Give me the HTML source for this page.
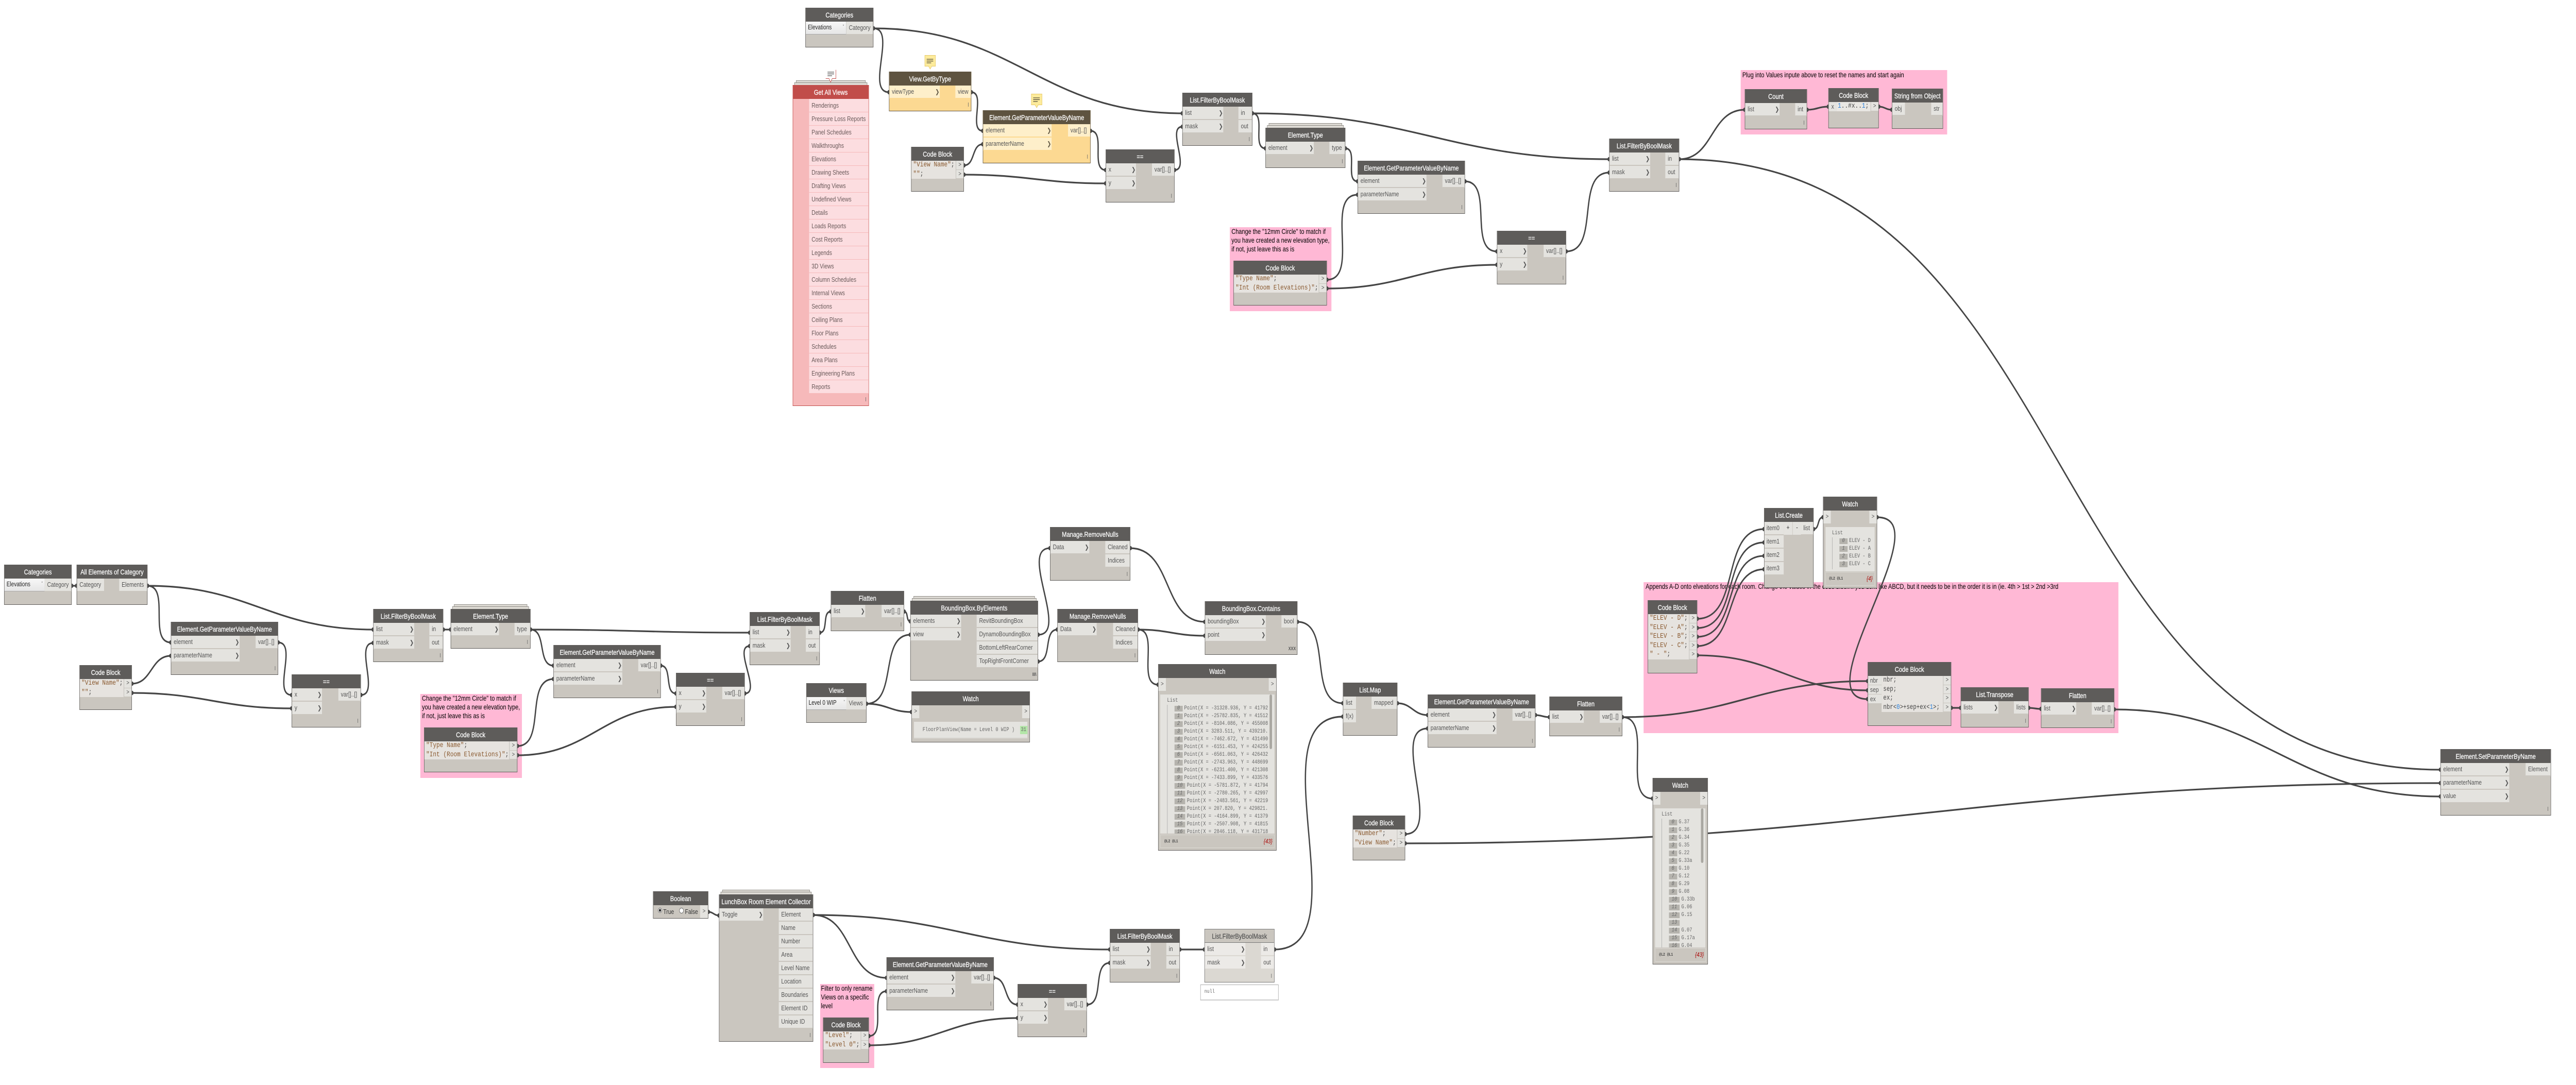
<!DOCTYPE html>
<html lang="en">
<head>
<meta charset="utf-8">
<title>Dynamo graph</title>
<style>
html,body{margin:0;padding:0;background:#fff;overflow:hidden}
#c{position:relative;width:6288px;height:2106px;overflow:hidden;background:#fff;font-family:"Liberation Sans",sans-serif}
.g{position:absolute;background:#ffb8d5;color:#000;font-size:13.8px;line-height:17px;padding:0 4px;box-sizing:border-box;white-space:nowrap}
svg.w{position:absolute;left:0;top:0}
.n{position:absolute;box-sizing:border-box;background:#cac6bf;border:1px solid #5e5c5a;border-bottom-width:1.5px;font:13px "Liberation Sans",sans-serif;color:#555}
.h{height:26px;line-height:26px;background:#5e5c5a;color:#fff;font-size:14px;text-align:center;white-space:nowrap;overflow:hidden;-webkit-text-stroke:.25px #fff}
.L{position:absolute;left:0;top:26px}
.R{position:absolute;right:0;top:26px}
.r{position:relative;height:24px;line-height:24px;padding-left:6px;background:#e4e3df;border-bottom:2px solid #cac6bf;white-space:nowrap;overflow:visible}
.r b{position:absolute;right:1px;top:0;font:bold 12px "DejaVu Sans",sans-serif;line-height:24px;color:#555}
.l{position:absolute;right:6px;bottom:8px;width:1.5px;height:8px;background:#666}
.lt{position:absolute;right:3px;bottom:5px;font-size:9px;font-weight:bold;color:#555;line-height:12px}
.s::before{content:"";position:absolute;z-index:-1;left:3px;right:3px;top:-6px;height:6px;background:#dedbd5;border:1px solid #8f8c86;border-bottom:0;box-sizing:border-box}
.s::after{content:"";position:absolute;z-index:-2;left:7px;right:7px;top:-10px;height:6px;background:#dedbd5;border:1px solid #8f8c86;border-bottom:0;box-sizing:border-box}
.cb{position:absolute;left:0;top:26px;background:#e6e3df;font:14px/17.5px "Liberation Mono",monospace;color:#444;padding-left:4px;box-sizing:border-box;white-space:nowrap;overflow:hidden}
.cb span{color:#8a5a30}
.cb em{color:#2b7fd8;font-style:normal}
.P{position:absolute;right:0;top:26px;width:19px}
.P div{height:16.5px;line-height:16.5px;border-bottom:1px solid #cac6bf;border-left:1px solid #bdbab4;background:#e4e3df;text-align:center;font:12px/16.5px "Liberation Mono",monospace;color:#555}
.dd{position:absolute;left:0;top:26px;height:25px;line-height:23px;box-sizing:border-box;padding-left:5px;background:linear-gradient(#f7f7f7,#e6e6e6);border-bottom:1.5px solid #aaa;border-right:1px solid #ccc;color:#222;font-size:12.6px;white-space:nowrap}
.dd i{position:absolute;right:4px;top:-1px;font:9px "DejaVu Sans",sans-serif;line-height:24px;color:#666}
.pl,.pr{position:absolute;top:26px;width:18px;height:25px;line-height:25px;background:#e4e3df;text-align:center;font:12px/25px "Liberation Mono",monospace;color:#555}
.pl{left:0}.pr{right:0}
.wb{position:absolute;background:#e4e3df;overflow:hidden;font:11px/15px "Liberation Mono",monospace;color:#666;white-space:nowrap;box-sizing:border-box}
.wl{border-left:1px solid #aaa;padding-left:17px}
.wb u{display:inline-block;height:11px;line-height:11px;padding:0 6.5px;margin-right:4px;background:#b5b3ad;font-style:italic;text-decoration:none;color:#666;vertical-align:0}
.sb{position:absolute;background:#a9a7a1;border-radius:3px;width:6px}
.wf{position:absolute;box-sizing:border-box;border:1px solid #dad8d2;background:#cac6bf;font:bold 8px/25px "Liberation Mono",monospace;color:#444;white-space:nowrap}
.wf em{position:absolute;right:4px;top:0;font:italic 12px/25px "Liberation Sans",sans-serif;color:#a00}
.red .h{background:#c14d4a}
.red{background:#f6b9ba;border-color:#c14d4a}
.red .r{background:#fcdde0;border-bottom:1px solid #f6b9ba;height:25px;line-height:25px;color:#6a5a5a}
.yel{background:#fcd992;border-color:#5e5340}
.yel .h{background:#5e5340}
.yel .r{background:#feefca;border-bottom-color:#fcd992}
.yel .r b{color:#5e5340}
.gry{background:#dbd8d2;border-color:#777}
.gry .h{background:#cac6bf;color:#555;-webkit-text-stroke:.25px #555;border-bottom:1px solid #777;height:25px}
.gry .r{background:#eceae7;border-bottom-color:#dbd8d2}
</style>
</head>
<body>
<div id="c">

<!-- groups -->
<div class="g" style="left:3002px;top:441px;width:248px;height:163px">Change the "12mm Circle"  to match if<br>you have created a new elevation type,<br>if not, just leave this as is</div>
<div class="g" style="left:4249px;top:136px;width:504px;height:125px;padding-top:1px">Plug into Values inpute above to reset the names and start again</div>
<div class="g" style="left:1026px;top:1347px;width:248px;height:163px">Change the "12mm Circle"  to match if<br>you have created a new elevation type,<br>if not, just leave this as is</div>
<div class="g" style="left:4012px;top:1130px;width:1159px;height:293px;padding-left:5px">Appends A-D onto elveations for each room. Change the values in the code block if you dont like ABCD, but it needs to be in the order it is in (ie. 4th &gt; 1st &gt; 2nd &gt;3rd</div>
<div class="g" style="left:2002px;top:1910px;width:132px;height:163px;padding-left:2px">Filter to only rename<br>Views on a specific<br>level</div>

<!-- wires -->
<svg class="w" width="6288" height="2106" viewBox="0 0 6288 2106" xmlns="http://www.w3.org/2000/svg">
<defs><marker id="d" markerUnits="userSpaceOnUse" markerWidth="10" markerHeight="10" refX="5" refY="5"><circle cx="5" cy="5" r="4.2" fill="#454545"/></marker></defs>
<g fill="none" stroke="#454545" stroke-width="3.2" marker-start="url(#d)" marker-end="url(#d)">
<path d="M2132 55C2190 55 2112 179 2170 179"/>
<path d="M2132 55C2479 55 2539 220 2886 220"/>
<path d="M2371 179C2407 179 2363 254 2399 254"/>
<path d="M2353 321C2381 321 2371 280 2399 280"/>
<path d="M2662 254C2700 254 2661 330 2699 330"/>
<path d="M2353 339C2509 339 2543 356 2699 356"/>
<path d="M2867 330C2906 330 2847 246 2886 246"/>
<path d="M3057 220C3091 220 3055 288 3089 288"/>
<path d="M3057 220C3451 220 3534 309 3928 309"/>
<path d="M3284 288C3316 288 3282 352 3314 352"/>
<path d="M3239 543C3321 543 3232 378 3314 378"/>
<path d="M3576 352C3647 352 3583 488 3654 488"/>
<path d="M3239 560C3427 560 3466 514 3654 514"/>
<path d="M3823 488C3907 488 3844 335 3928 335"/>
<path d="M4099 309C4183 309 4175 213 4259 213"/>
<path d="M4411 213C4435 213 4439 207 4463 207"/>
<path d="M4586 207C4601 207 4603 213 4618 213"/>
<path d="M4099 309C5091 309 4965 1494 5957 1494"/>
<path d="M175 1137L187 1137"/>
<path d="M360 1137C416 1137 361 1247 417 1247"/>
<path d="M360 1137C611 1137 660 1222 911 1222"/>
<path d="M322 1327C371 1327 368 1273 417 1273"/>
<path d="M679 1247C727 1247 664 1349 712 1349"/>
<path d="M322 1345C498 1345 536 1375 712 1375"/>
<path d="M881 1349C928 1349 864 1248 911 1248"/>
<path d="M1082 1222L1100 1222"/>
<path d="M1295 1222C1335 1222 1311 1292 1351 1292"/>
<path d="M1295 1222C1536 1222 1589 1228 1830 1228"/>
<path d="M1263 1448C1334 1448 1280 1318 1351 1318"/>
<path d="M1263 1466C1442 1466 1471 1372 1650 1372"/>
<path d="M1613 1292C1642 1292 1621 1346 1650 1346"/>
<path d="M1818 1346C1860 1346 1788 1254 1830 1254"/>
<path d="M2001 1228C2023 1228 2006 1187 2028 1187"/>
<path d="M2207 1187C2218 1187 2211 1206 2222 1206"/>
<path d="M2115 1366C2192 1366 2145 1232 2222 1232"/>
<path d="M2115 1366C2165 1366 2175 1382 2225 1382"/>
<path d="M2534 1232C2611 1232 2486 1064 2563 1064"/>
<path d="M2534 1284C2569 1284 2546 1222 2581 1222"/>
<path d="M2759 1064C2863 1064 2837 1207 2941 1207"/>
<path d="M2778 1222C2852 1222 2867 1234 2941 1234"/>
<path d="M2778 1222C2831 1222 2774 1329 2827 1329"/>
<path d="M3167 1207C3254 1207 3191 1365 3278 1365"/>
<path d="M3111 1843C3328 1843 3061 1391 3278 1391"/>
<path d="M3411 1365C3446 1365 3450 1388 3485 1388"/>
<path d="M3430 1619C3525 1619 3390 1414 3485 1414"/>
<path d="M3748 1388C3763 1388 3767 1392 3782 1392"/>
<path d="M3430 1637C4568 1637 4819 1520 5957 1520"/>
<path d="M3960 1392C4038 1392 3956 1550 4034 1550"/>
<path d="M3960 1392C4231 1392 4288 1322 4559 1322"/>
<path d="M4143 1201C4250 1201 4199 1027 4306 1027"/>
<path d="M4143 1219C4248 1219 4201 1053 4306 1053"/>
<path d="M4143 1236C4245 1236 4204 1079 4306 1079"/>
<path d="M4143 1254C4242 1254 4207 1105 4306 1105"/>
<path d="M4143 1272C4333 1272 4369 1340 4559 1340"/>
<path d="M4427 1027C4442 1027 4435 1004 4450 1004"/>
<path d="M4582 1004C4741 1004 4400 1357 4559 1357"/>
<path d="M4763 1374L4786 1374"/>
<path d="M4952 1374C4965 1374 4969 1376 4982 1376"/>
<path d="M5161 1377C5528 1377 5590 1546 5957 1546"/>
<path d="M1729 1770C1741 1770 1743 1777 1755 1777"/>
<path d="M1985 1776C2082 1776 2067 1898 2164 1898"/>
<path d="M1985 1776C2312 1776 2382 1843 2709 1843"/>
<path d="M2121 2011C2165 2011 2120 1924 2164 1924"/>
<path d="M2121 2029C2286 2029 2319 1976 2484 1976"/>
<path d="M2426 1898C2461 1898 2449 1950 2484 1950"/>
<path d="M2653 1950C2697 1950 2665 1869 2709 1869"/>
<path d="M2880 1843L2940 1843"/>
</g>
<!-- note icons -->
<path d="M2257.5 107.5h26v21h-9l-4 5.5-4-5.5h-9z" fill="#fdeb9b" stroke="#e5c96a"/>
<path d="M2262 115h16M2262 118.5h16M2262 122h11" stroke="#222" stroke-width="1"/>
<path d="M2517.5 182.5h26v21h-9l-4 5.5-4-5.5h-9z" fill="#fdeb9b" stroke="#e5c96a"/>
<path d="M2522 190h16M2522 193.5h16M2522 197h11" stroke="#222" stroke-width="1"/>
<path d="M2040.5 135.5v17h-9l-4 7-4-7h-8" fill="#fff" stroke="#c14d4a"/>
<path d="M2020 140h16M2020 143.5h16M2020 147h11" stroke="#222" stroke-width="1"/>
</svg>

<!-- top row -->
<div class="n" style="left:1966px;top:15px;width:166px;height:77px"><div class="h">Categories</div><div class="dd" style="width:99px">Elevations<i>˅</i></div><div class="R" style="width:65px"><div class="r">Category</div></div></div>

<div class="n s red" style="left:1935px;top:165px;width:186px;height:623px"><div class="h">Get All Views</div><div class="R" style="width:145px"><div class="r">Renderings</div><div class="r">Pressure Loss Reports</div><div class="r">Panel Schedules</div><div class="r">Walkthroughs</div><div class="r">Elevations</div><div class="r">Drawing Sheets</div><div class="r">Drafting Views</div><div class="r">Undefined Views</div><div class="r">Details</div><div class="r">Loads Reports</div><div class="r">Cost Reports</div><div class="r">Legends</div><div class="r">3D Views</div><div class="r">Column Schedules</div><div class="r">Internal Views</div><div class="r">Sections</div><div class="r">Ceiling Plans</div><div class="r">Floor Plans</div><div class="r">Schedules</div><div class="r">Area Plans</div><div class="r">Engineering Plans</div><div class="r">Reports</div></div><i class="l"></i></div>

<div class="n yel" style="left:2170px;top:139px;width:201px;height:77px"><div class="h">View.GetByType</div><div class="L" style="width:123px"><div class="r">viewType<b>❯</b></div></div><div class="R" style="width:38px"><div class="r">view</div></div><i class="l"></i></div>

<div class="n yel" style="left:2399px;top:214px;width:263px;height:103px"><div class="h">Element.GetParameterValueByName</div><div class="L" style="width:167px"><div class="r">element<b>❯</b></div><div class="r">parameterName<b>❯</b></div></div><div class="R" style="width:54px"><div class="r">var[]..[]</div></div><i class="l"></i></div>

<div class="n" style="left:2224px;top:285px;width:129px;height:87px"><div class="h">Code Block</div><div class="cb" style="width:108px;height:35px"><span>"View Name"</span>;<br><span>""</span>;</div><div class="P"><div>&gt;</div><div>&gt;</div></div></div>

<div class="n" style="left:2699px;top:290px;width:168px;height:103px"><div class="h">==</div><div class="L" style="width:73px"><div class="r">x<b>❯</b></div><div class="r">y<b>❯</b></div></div><div class="R" style="width:54px"><div class="r">var[]..[]</div></div><i class="l"></i></div>

<div class="n" style="left:2886px;top:180px;width:171px;height:103px"><div class="h">List.FilterByBoolMask</div><div class="L" style="width:99px"><div class="r">list<b>❯</b></div><div class="r">mask<b>❯</b></div></div><div class="R" style="width:33px"><div class="r">in</div><div class="r">out</div></div><i class="l"></i></div>

<div class="n s" style="left:3089px;top:248px;width:195px;height:78px"><div class="h">Element.Type</div><div class="L" style="width:117px"><div class="r">element<b>❯</b></div></div><div class="R" style="width:38px"><div class="r">type</div></div><i class="l"></i></div>

<div class="n" style="left:3314px;top:312px;width:262px;height:103px"><div class="h">Element.GetParameterValueByName</div><div class="L" style="width:167px"><div class="r">element<b>❯</b></div><div class="r">parameterName<b>❯</b></div></div><div class="R" style="width:54px"><div class="r">var[]..[]</div></div><i class="l"></i></div>

<div class="n" style="left:3011px;top:506px;width:228px;height:87px"><div class="h">Code Block</div><div class="cb" style="width:207px;height:35px"><span>"Type Name"</span>;<br><span>"Int (Room Elevations)"</span>;</div><div class="P"><div>&gt;</div><div>&gt;</div></div></div>

<div class="n" style="left:3654px;top:448px;width:169px;height:104px"><div class="h">==</div><div class="L" style="width:73px"><div class="r">x<b>❯</b></div><div class="r">y<b>❯</b></div></div><div class="R" style="width:54px"><div class="r">var[]..[]</div></div><i class="l"></i></div>

<div class="n" style="left:3928px;top:269px;width:171px;height:103px"><div class="h">List.FilterByBoolMask</div><div class="L" style="width:99px"><div class="r">list<b>❯</b></div><div class="r">mask<b>❯</b></div></div><div class="R" style="width:33px"><div class="r">in</div><div class="r">out</div></div><i class="l"></i></div>

<div class="n" style="left:4259px;top:173px;width:152px;height:78px"><div class="h">Count</div><div class="L" style="width:84px"><div class="r">list<b>❯</b></div></div><div class="R" style="width:28px"><div class="r">int</div></div><i class="l"></i></div>

<div class="n" style="left:4463px;top:171px;width:123px;height:78px"><div class="h">Code Block</div><div class="pl" style="height:18px;width:19px;font:13px/18px 'Liberation Sans',sans-serif">x</div><div class="cb" style="left:19px;width:83px;height:18px;background:#e9e7e3;padding-left:3px"><em>1</em>..#x..<em>1</em>;</div><div class="P"><div>&gt;</div></div></div>

<div class="n" style="left:4618px;top:172px;width:125px;height:78px"><div class="h">String from Object</div><div class="L" style="width:31px"><div class="r">obj</div></div><div class="R" style="width:28px"><div class="r">str</div></div></div>

<!-- second row -->
<div class="n" style="left:10px;top:1096px;width:165px;height:78px"><div class="h">Categories</div><div class="dd" style="width:99px">Elevations<i>˅</i></div><div class="R" style="width:65px"><div class="r">Category</div></div></div>

<div class="n" style="left:187px;top:1096px;width:173px;height:78px"><div class="h">All Elements of Category</div><div class="L" style="width:66px"><div class="r">Category</div></div><div class="R" style="width:68px"><div class="r">Elements</div></div></div>

<div class="n" style="left:417px;top:1207px;width:262px;height:103px"><div class="h">Element.GetParameterValueByName</div><div class="L" style="width:167px"><div class="r">element<b>❯</b></div><div class="r">parameterName<b>❯</b></div></div><div class="R" style="width:54px"><div class="r">var[]..[]</div></div><i class="l"></i></div>

<div class="n" style="left:194px;top:1291px;width:128px;height:87px"><div class="h">Code Block</div><div class="cb" style="width:107px;height:35px"><span>"View Name"</span>;<br><span>""</span>;</div><div class="P"><div>&gt;</div><div>&gt;</div></div></div>

<div class="n" style="left:712px;top:1309px;width:169px;height:103px"><div class="h">==</div><div class="L" style="width:73px"><div class="r">x<b>❯</b></div><div class="r">y<b>❯</b></div></div><div class="R" style="width:54px"><div class="r">var[]..[]</div></div><i class="l"></i></div>

<div class="n" style="left:911px;top:1182px;width:171px;height:103px"><div class="h">List.FilterByBoolMask</div><div class="L" style="width:99px"><div class="r">list<b>❯</b></div><div class="r">mask<b>❯</b></div></div><div class="R" style="width:33px"><div class="r">in</div><div class="r">out</div></div><i class="l"></i></div>

<div class="n s" style="left:1100px;top:1182px;width:195px;height:77px"><div class="h">Element.Type</div><div class="L" style="width:117px"><div class="r">element<b>❯</b></div></div><div class="R" style="width:38px"><div class="r">type</div></div><i class="l"></i></div>

<div class="n" style="left:1351px;top:1252px;width:262px;height:103px"><div class="h">Element.GetParameterValueByName</div><div class="L" style="width:167px"><div class="r">element<b>❯</b></div><div class="r">parameterName<b>❯</b></div></div><div class="R" style="width:54px"><div class="r">var[]..[]</div></div><i class="l"></i></div>

<div class="n" style="left:1035px;top:1412px;width:228px;height:87px"><div class="h">Code Block</div><div class="cb" style="width:207px;height:35px"><span>"Type Name"</span>;<br><span>"Int (Room Elevations)"</span>;</div><div class="P"><div>&gt;</div><div>&gt;</div></div></div>

<div class="n" style="left:1650px;top:1306px;width:168px;height:103px"><div class="h">==</div><div class="L" style="width:73px"><div class="r">x<b>❯</b></div><div class="r">y<b>❯</b></div></div><div class="R" style="width:54px"><div class="r">var[]..[]</div></div><i class="l"></i></div>

<div class="n" style="left:1830px;top:1188px;width:171px;height:103px"><div class="h">List.FilterByBoolMask</div><div class="L" style="width:99px"><div class="r">list<b>❯</b></div><div class="r">mask<b>❯</b></div></div><div class="R" style="width:33px"><div class="r">in</div><div class="r">out</div></div><i class="l"></i></div>

<div class="n" style="left:2028px;top:1147px;width:179px;height:78px"><div class="h">Flatten</div><div class="L" style="width:83px"><div class="r">list<b>❯</b></div></div><div class="R" style="width:54px"><div class="r">var[]..[]</div></div><i class="l"></i></div>

<div class="n s" style="left:2222px;top:1166px;width:312px;height:155px"><div class="h">BoundingBox.ByElements</div><div class="L" style="width:123px"><div class="r">elements<b>❯</b></div><div class="r">view<b>❯</b></div></div><div class="R" style="width:149px"><div class="r">RevitBoundingBox</div><div class="r">DynamoBoundingBox</div><div class="r">BottomLeftRearCorner</div><div class="r">TopRightFrontCorner</div></div><span class="lt">III\</span></div>

<div class="n" style="left:1968px;top:1326px;width:147px;height:77px"><div class="h">Views</div><div class="dd" style="width:99px">Level 0 WIP<i>˅</i></div><div class="R" style="width:48px"><div class="r">Views</div></div></div>

<div class="n" style="left:2225px;top:1342px;width:289px;height:99px"><div class="h">Watch</div><div class="pl">&gt;</div><div class="pr">&gt;</div><div class="wb" style="left:5px;top:58px;width:277px;height:33px;padding:8px 0 0 21px;line-height:16px;border-bottom:2px solid #d4d1cb">FloorPlanView(Name = Level 0 WIP )<div style="position:absolute;left:259px;top:8px;width:19px;height:16px;background:#b3e6a8;overflow:hidden;padding-left:2px">31</div></div></div>

<div class="n" style="left:2563px;top:1023px;width:196px;height:104px"><div class="h">Manage.RemoveNulls</div><div class="L" style="width:95px"><div class="r">Data<b>❯</b></div></div><div class="R" style="width:60px"><div class="r">Cleaned</div><div class="r">Indices</div></div><i class="l"></i></div>

<div class="n" style="left:2581px;top:1182px;width:197px;height:103px"><div class="h">Manage.RemoveNulls</div><div class="L" style="width:95px"><div class="r">Data<b>❯</b></div></div><div class="R" style="width:60px"><div class="r">Cleaned</div><div class="r">Indices</div></div><i class="l"></i></div>

<div class="n" style="left:2941px;top:1167px;width:226px;height:104px"><div class="h">BoundingBox.Contains</div><div class="L" style="width:148px"><div class="r">boundingBox<b>❯</b></div><div class="r">point<b>❯</b></div></div><div class="R" style="width:38px"><div class="r">bool</div></div><span class="lt">XXX</span></div>

<div class="n" style="left:2827px;top:1289px;width:289px;height:362px"><div class="h">Watch</div><div class="pl">&gt;</div><div class="pr">&gt;</div>
<div class="wb" style="left:4px;top:58px;width:279px;height:270px;padding:5px 12px 0 17px;"><div>List</div><div class="wl" style="height:260px;overflow:hidden">
<div><u>0</u>Point(X = -31328.936, Y = 41792</div>
<div><u>1</u>Point(X = -25782.835, Y = 41512</div>
<div><u>2</u>Point(X = -8104.086, Y = 455008</div>
<div><u>3</u>Point(X = 3283.511, Y = 439210.</div>
<div><u>4</u>Point(X = -7462.672, Y = 431490</div>
<div><u>5</u>Point(X = -6151.453, Y = 424255</div>
<div><u>6</u>Point(X = -6561.063, Y = 426432</div>
<div><u>7</u>Point(X = -2743.963, Y = 448699</div>
<div><u>8</u>Point(X = -6231.400, Y = 421308</div>
<div><u>9</u>Point(X = -7433.899, Y = 433576</div>
<div><u>10</u>Point(X = -5781.872, Y = 41794</div>
<div><u>11</u>Point(X = -2780.265, Y = 42997</div>
<div><u>12</u>Point(X = -2483.561, Y = 42219</div>
<div><u>13</u>Point(X = 207.820, Y = 429821.</div>
<div><u>14</u>Point(X = -4164.899, Y = 41379</div>
<div><u>15</u>Point(X = -2507.908, Y = 41815</div>
<div><u>16</u>Point(X = 2846.118, Y = 431718</div>
<div><u>17</u>Point(X = 2846.118, Y = 431718</div>
</div></div>
<div class="sb" style="left:271px;top:58px;height:106px"></div>
<div class="wf" style="left:4px;top:330px;width:279px;height:26px;padding-left:9px">@L2 @L1<em>{43}</em></div></div>

<div class="n" style="left:3278px;top:1325px;width:133px;height:103px"><div class="h">List.Map</div><div class="L" style="width:31px"><div class="r">list</div><div class="r">f(x)</div></div><div class="R" style="width:62px"><div class="r">mapped</div></div></div>

<div class="n" style="left:3485px;top:1348px;width:263px;height:103px"><div class="h">Element.GetParameterValueByName</div><div class="L" style="width:167px"><div class="r">element<b>❯</b></div><div class="r">parameterName<b>❯</b></div></div><div class="R" style="width:55px"><div class="r">var[]..[]</div></div><i class="l"></i></div>

<div class="n" style="left:3782px;top:1352px;width:178px;height:77px"><div class="h">Flatten</div><div class="L" style="width:83px"><div class="r">list<b>❯</b></div></div><div class="R" style="width:54px"><div class="r">var[]..[]</div></div><i class="l"></i></div>

<div class="n" style="left:3302px;top:1583px;width:128px;height:87px"><div class="h">Code Block</div><div class="cb" style="width:107px;height:35px"><span>"Number"</span>;<br><span>"View Name"</span>;</div><div class="P"><div>&gt;</div><div>&gt;</div></div></div>

<div class="n" style="left:4034px;top:1510px;width:135px;height:362px"><div class="h">Watch</div><div class="pl">&gt;</div><div class="pr">&gt;</div>
<div class="wb" style="left:5px;top:58px;width:123px;height:270px;padding:5px 0 0 16px"><div>List</div><div class="wl" style="height:260px;overflow:hidden">
<div><u>0</u>G.37</div><div><u>1</u>G.36</div><div><u>2</u>G.34</div><div><u>3</u>G.35</div><div><u>4</u>G.22</div><div><u>5</u>G.33a</div><div><u>6</u>G.10</div><div><u>7</u>G.12</div><div><u>8</u>G.29</div><div><u>9</u>G.08</div><div><u>10</u>G.33b</div><div><u>11</u>G.06</div><div><u>12</u>G.15</div><div><u>13</u>&nbsp;</div><div><u>14</u>G.07</div><div><u>15</u>G.17a</div><div><u>16</u>G.04</div><div><u>17</u>G.05</div></div></div>
<div class="sb" style="left:117px;top:58px;height:106px"></div>
<div class="wf" style="left:5px;top:329px;width:124px;height:27px;padding-left:9px">@L2 @L1<em>{43}</em></div></div>

<div class="n" style="left:4306px;top:986px;width:121px;height:155px"><div class="h">List.Create</div><div class="L" style="width:47px"><div class="r" style="padding-left:5px">item0</div><div class="r" style="padding-left:5px">item1</div><div class="r" style="padding-left:5px">item2</div><div class="r" style="padding-left:5px">item3</div></div><div style="position:absolute;left:47px;top:26px;width:21px;height:25px;line-height:22px;background:#e4e3df;text-align:center;color:#333">+</div><div style="position:absolute;left:69px;top:26px;width:21px;height:25px;line-height:22px;background:#e4e3df;text-align:center;color:#333">-</div><div class="R" style="width:30px"><div class="r" style="padding-left:6px">list</div></div></div>

<div class="n" style="left:4450px;top:964px;width:132px;height:178px"><div class="h">Watch</div><div class="pl">&gt;</div><div class="pr">&gt;</div>
<div class="wb" style="left:5px;top:58px;width:120px;height:86px;padding:5px 0 0 16px"><div>List</div><div class="wl" style="height:62px;overflow:hidden"><div><u>0</u>ELEV - D</div><div><u>1</u>ELEV - A</div><div><u>2</u>ELEV - B</div><div><u>3</u>ELEV - C</div></div></div>
<div class="wf" style="left:5px;top:145px;width:120px;height:27px;padding-left:8px">@L2 @L1<em>{4}</em></div></div>

<div class="n" style="left:4022px;top:1165px;width:121px;height:142px"><div class="h">Code Block</div><div class="cb" style="width:100px;height:88px"><span>"ELEV - D"</span>;<br><span>"ELEV - A"</span>;<br><span>"ELEV - B"</span>;<br><span>"ELEV - C"</span>;<br><span>" - "</span>;</div><div class="P"><div>&gt;</div><div>&gt;</div><div>&gt;</div><div>&gt;</div><div>&gt;</div></div></div>

<div class="n" style="left:4559px;top:1285px;width:204px;height:124px"><div class="h">Code Block</div><div class="L" style="width:33px;background:transparent"><div style="line-height:17.5px;background:#e4e3df;padding-left:5px;box-sizing:border-box;border-bottom:1px solid #cac6bf;height:18px">nbr</div><div style="line-height:17.5px;background:#e4e3df;padding-left:5px;box-sizing:border-box;border-bottom:1px solid #cac6bf;height:17.5px">sep</div><div style="line-height:17.5px;background:#e4e3df;padding-left:5px;box-sizing:border-box;height:17.5px">ex</div></div><div class="cb" style="left:33px;width:151px;height:70px;font-family:'Liberation Mono',monospace;font-size:13.5px">nbr;<br>sep;<br>ex;<br>nbr&lt;<em>0</em>&gt;+sep+ex&lt;<em>1</em>&gt;;</div><div class="P"><div>&gt;</div><div>&gt;</div><div>&gt;</div><div>&gt;</div></div></div>

<div class="n" style="left:4786px;top:1334px;width:166px;height:78px"><div class="h">List.Transpose</div><div class="L" style="width:91px"><div class="r">lists<b>❯</b></div></div><div class="R" style="width:35px"><div class="r">lists</div></div><i class="l"></i></div>

<div class="n" style="left:4982px;top:1336px;width:179px;height:77px"><div class="h">Flatten</div><div class="L" style="width:85px"><div class="r">list<b>❯</b></div></div><div class="R" style="width:54px"><div class="r">var[]..[]</div></div><i class="l"></i></div>

<div class="n" style="left:5957px;top:1454px;width:270px;height:129px"><div class="h">Element.SetParameterByName</div><div class="L" style="width:167px"><div class="r">element<b>❯</b></div><div class="r">parameterName<b>❯</b></div><div class="r">value<b>❯</b></div></div><div class="R" style="width:61px"><div class="r">Element</div></div><i class="l"></i></div>

<!-- bottom row -->
<div class="n" style="left:1594px;top:1730px;width:135px;height:53px"><div class="h">Boolean</div><div style="position:absolute;left:11px;top:31px;width:10px;height:10px;border:1px solid #666;border-radius:50%;background:radial-gradient(#222 45%,#fff 50%);box-sizing:border-box"></div><div style="position:absolute;left:24px;top:26px;line-height:25px;color:#333">True</div><div style="position:absolute;left:63px;top:31px;width:11px;height:11px;border:1px solid #666;border-radius:50%;background:#fff;box-sizing:border-box"></div><div style="position:absolute;left:77px;top:26px;line-height:25px;color:#333">False</div><div class="pr" style="width:19px">&gt;</div></div>

<div class="n s" style="left:1755px;top:1736px;width:230px;height:286px"><div class="h">LunchBox Room Element Collector</div><div class="L" style="width:107px"><div class="r">Toggle<b>❯</b></div></div><div class="R" style="width:83px"><div class="r">Element</div><div class="r">Name</div><div class="r">Number</div><div class="r">Area</div><div class="r">Level Name</div><div class="r">Location</div><div class="r">Boundaries</div><div class="r">Element ID</div><div class="r">Unique ID</div></div><i class="l"></i></div>

<div class="n" style="left:2164px;top:1858px;width:262px;height:103px"><div class="h">Element.GetParameterValueByName</div><div class="L" style="width:167px"><div class="r">element<b>❯</b></div><div class="r">parameterName<b>❯</b></div></div><div class="R" style="width:54px"><div class="r">var[]..[]</div></div><i class="l"></i></div>

<div class="n" style="left:2009px;top:1975px;width:112px;height:88px"><div class="h">Code Block</div><div class="cb" style="width:91px;height:35px"><span>"Level"</span>;<br><span>"Level 0"</span>;</div><div class="P"><div>&gt;</div><div>&gt;</div></div></div>

<div class="n" style="left:2484px;top:1910px;width:169px;height:103px"><div class="h">==</div><div class="L" style="width:73px"><div class="r">x<b>❯</b></div><div class="r">y<b>❯</b></div></div><div class="R" style="width:54px"><div class="r">var[]..[]</div></div><i class="l"></i></div>

<div class="n" style="left:2709px;top:1803px;width:171px;height:104px"><div class="h">List.FilterByBoolMask</div><div class="L" style="width:99px"><div class="r">list<b>❯</b></div><div class="r">mask<b>❯</b></div></div><div class="R" style="width:32px"><div class="r">in</div><div class="r">out</div></div><i class="l"></i></div>

<div class="n gry" style="left:2940px;top:1803px;width:171px;height:104px"><div class="h">List.FilterByBoolMask</div><div class="L" style="width:99px"><div class="r">list<b>❯</b></div><div class="r">mask<b>❯</b></div></div><div class="R" style="width:32px"><div class="r">in</div><div class="r">out</div></div><i class="l"></i></div>

<div style="position:absolute;left:2930px;top:1911px;width:191px;height:31px;box-sizing:border-box;background:#fff;border:1px solid #aaa;border-bottom:2px solid #ccc;font:10.5px/27px 'Liberation Mono',monospace;color:#666;padding-left:9px">null</div>

</div>
<script>
(function(){
var c=document.getElementById('c'),iw=window.innerWidth,ih=window.innerHeight;
if(iw&&ih&&(iw!==6288||ih!==2106)){c.style.transformOrigin='0 0';c.style.transform='scale('+(iw/6288)+','+(ih/2106)+')';}
})();
</script>
</body>
</html>
